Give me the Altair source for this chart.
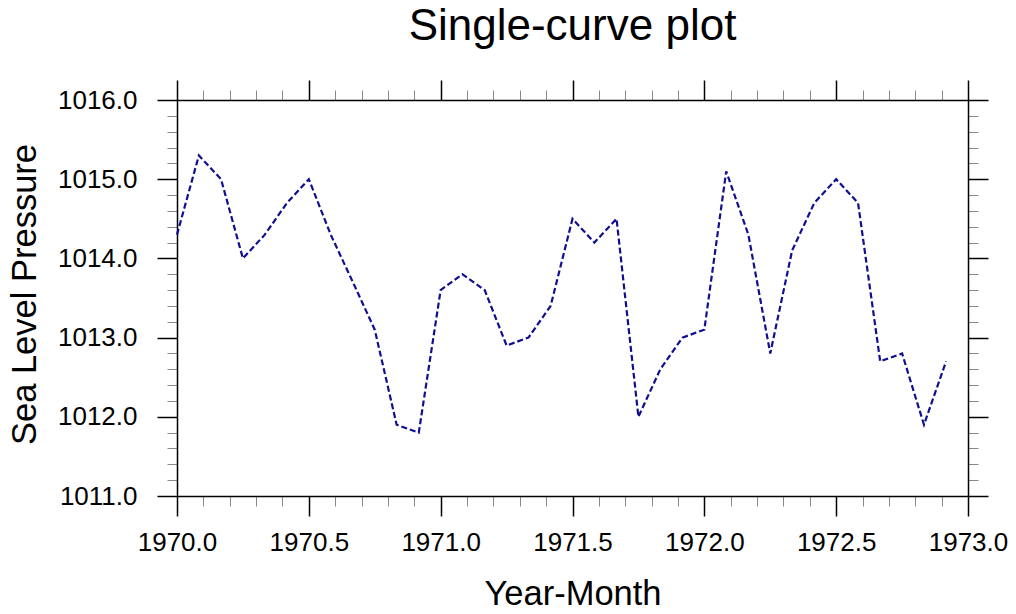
import altair as alt
import pandas as pd

FONT = "Liberation Sans"

# decimal year of each monthly sample
time = [1970.000, 1970.083, 1970.167, 1970.250, 1970.333, 1970.417,
        1970.500, 1970.583, 1970.667, 1970.750, 1970.833, 1970.917,
        1971.000, 1971.083, 1971.167, 1971.250, 1971.333, 1971.417,
        1971.500, 1971.583, 1971.667, 1971.750, 1971.833, 1971.917,
        1972.000, 1972.083, 1972.167, 1972.250, 1972.333, 1972.417,
        1972.500, 1972.583, 1972.667, 1972.750, 1972.833, 1972.917]

slp = [1014.3, 1015.3, 1015.0, 1014.0, 1014.3, 1014.7,
       1015.0, 1014.3, 1013.7, 1013.1, 1011.9, 1011.8,
       1013.6, 1013.8, 1013.6, 1012.9, 1013.0, 1013.4,
       1014.5, 1014.2, 1014.5, 1012.0, 1012.6, 1013.0,
       1013.1, 1015.1, 1014.3, 1012.8, 1014.1, 1014.7,
       1015.0, 1014.7, 1012.7, 1012.8, 1011.9, 1012.7]

x_major = [1970.0, 1970.5, 1971.0, 1971.5, 1972.0, 1972.5, 1973.0]
y_major = [1011.0, 1012.0, 1013.0, 1014.0, 1015.0, 1016.0]
x_minor = [round(1970 + i * 0.1, 1) for i in range(31)]
x_minor = [v for v in x_minor if v not in x_major]
y_minor = [round(1011 + i * 0.2, 1) for i in range(26)]
y_minor = [v for v in y_minor if v not in y_major]

df = pd.DataFrame({"t": time, "slp": slp})

W, H = 791, 396
xscale = alt.Scale(domain=[1970, 1973], nice=False, zero=False)
yscale = alt.Scale(domain=[1011, 1016], nice=False, zero=False)

common_major = dict(tickSize=20, tickWidth=1.5, tickColor="black",
                    domain=True, domainColor="black", domainWidth=1.5,
                    grid=False, labelFont=FONT, labelColor="black",
                    labelFlush=False, labelOverlap=False,
                    titleFont=FONT, titleColor="black", titleFontWeight="normal")
common_minor = dict(tickSize=10, tickWidth=1, tickColor="#8a8a8a",
                    domain=False, grid=False, labels=False, title=None)

ax_bottom = alt.Axis(orient="bottom", values=x_major, format=".1f",
                     labelFontSize=26, labelPadding=13,
                     title="Year-Month", titleFontSize=34.5,
                     titleX=W / 2, titleY=108, titleAlign="center",
                     titleBaseline="alphabetic", **common_major)
ax_left = alt.Axis(orient="left", values=y_major, format=".1f",
                   labelFontSize=26, labelPadding=20,
                   title="Sea Level Pressure", titleFontSize=34.5,
                   titleAngle=270, titleX=-142, titleY=194, titleAlign="center",
                   titleBaseline="alphabetic", **common_major)
ax_top = alt.Axis(orient="top", values=x_major, labels=False, title=None,
                  tickSize=20, tickWidth=1.5, tickColor="black",
                  domain=True, domainColor="black", domainWidth=1.5, grid=False)
ax_right = alt.Axis(orient="right", values=y_major, labels=False, title=None,
                    tickSize=20, tickWidth=1.5, tickColor="black",
                    domain=True, domainColor="black", domainWidth=1.5, grid=False)
ax_bottom_minor = alt.Axis(orient="bottom", values=x_minor, **common_minor)
ax_top_minor = alt.Axis(orient="top", values=x_minor, **common_minor)
ax_left_minor = alt.Axis(orient="left", values=y_minor, **common_minor)
ax_right_minor = alt.Axis(orient="right", values=y_minor, **common_minor)

base = alt.Chart(df)

minor1 = base.mark_point(opacity=0).encode(
    x=alt.X("t:Q", scale=xscale, axis=ax_bottom_minor),
    y=alt.Y("slp:Q", scale=yscale, axis=ax_left_minor))
minor2 = base.mark_point(opacity=0).encode(
    x=alt.X("t:Q", scale=xscale, axis=ax_top_minor),
    y=alt.Y("slp:Q", scale=yscale, axis=ax_right_minor))
major2 = base.mark_point(opacity=0).encode(
    x=alt.X("t:Q", scale=xscale, axis=ax_top),
    y=alt.Y("slp:Q", scale=yscale, axis=ax_right))
line = base.mark_line(color="#0f0f90", strokeWidth=2.2, strokeDash=[6, 3]).encode(
    x=alt.X("t:Q", scale=xscale, axis=ax_bottom),
    y=alt.Y("slp:Q", scale=yscale, axis=ax_left))

chart = alt.layer(minor1, minor2, major2, line).resolve_axis(
    x="independent", y="independent"
).properties(
    width=W, height=H,
    padding={"left": 169, "top": 92, "right": 40, "bottom": 110},
    autosize=alt.AutoSizeParams(type="none"),
    title=alt.TitleParams("Single-curve plot", font=FONT, fontSize=44,
                          fontWeight="normal", color="black", anchor="middle",
                          baseline="alphabetic", offset=-5),
).configure_view(stroke=None)

chart.save("out.html", embed_options={"renderer": "svg", "actions": False})
